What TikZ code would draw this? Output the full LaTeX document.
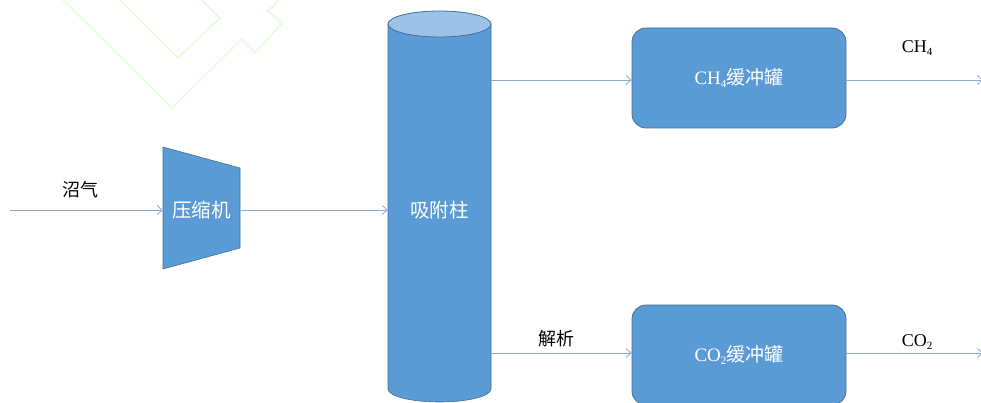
\documentclass[tikz,border=0pt]{standalone}
\usepackage{fontspec}
\setmainfont{Noto Sans CJK SC}
\newfontfamily\serifen{Liberation Serif}
\usetikzlibrary{arrows.meta}
\definecolor{boxblue}{HTML}{5B9BD5}
\definecolor{boxedge}{HTML}{41719C}
\definecolor{toplight}{HTML}{9CC2E8}
\definecolor{flow}{HTML}{8EAACB}
\definecolor{wmark}{HTML}{E8FDE0}
\newcommand{\subsc}[1]{\raisebox{-0.45ex}{\fontsize{11}{12}\selectfont #1}}
\tikzset{
  flowline/.style={draw=flow, line width=0.9pt, -{Straight Barb[length=5pt,width=9pt,line width=0.8pt]}},
  tank/.style={draw=boxedge, line width=0.8pt, fill=boxblue, rounded corners=14pt,
    minimum width=214pt, minimum height=100pt, inner sep=0pt, text=white},
  lbl/.style={font=\fontsize{18}{21}\selectfont, inner sep=0pt},
  wtxt/.style={font=\fontsize{19.5}{22}\selectfont, text=white, inner sep=0pt},
}
\begin{document}
\begin{tikzpicture}[x=1pt,y=-1pt]
\useasboundingbox[fill=white] (0,0) rectangle (981,403);
% watermark
\draw[wmark, line width=1.8pt] (63,0) -- (172,108) -- (242,39) -- (255,53) -- (282,23) -- (268,11) -- (279,0);
\draw[wmark, line width=1.8pt] (120,0) -- (178,58) -- (220,18) -- (202,0);
% compressor
\draw[boxedge, line width=0.6pt, fill=boxblue] (163,147) -- (240,168) -- (240,248) -- (163,269) -- cycle;
\node[wtxt, minimum width=77pt, minimum height=80pt] (comp) at (201.5,210) {压缩机};
% column
\fill[boxblue, draw=boxedge, line width=0.6pt] (388,24) -- (388,389) arc[start angle=180, end angle=0, x radius=51.5, y radius=13] -- (491,24) -- cycle;
\draw[boxedge, line width=0.8pt, fill=toplight] (439.5,24) ellipse[x radius=51.5, y radius=13];
\node[wtxt, minimum width=103pt, minimum height=300pt] (col) at (439.5,210) {吸附柱};
% tanks
\node[tank, font=\fontsize{19}{22}\selectfont] (ch4) at (739,78) {{\serifen CH\subsc{4}}缓冲罐};
\node[tank, font=\fontsize{19}{22}\selectfont] (co2) at (739,355) {{\serifen CO\subsc{2}}缓冲罐};
% connectors
\coordinate (in) at (10,210);
\coordinate (ch4out) at (983,80);
\coordinate (co2out) at (983,353);
\draw[flowline] (in) -- (comp.west);
\draw[flowline] (comp.east) -- (col.west);
\draw[flowline] (col.east |- 0,80) -- (ch4.west |- 0,80);
\draw[flowline] (col.east |- 0,353) -- (co2.west |- 0,353);
\draw[flowline] (ch4.east |- 0,80) -- (ch4out);
\draw[flowline] (co2.east |- 0,353) -- (co2out);
% labels
\node[lbl] (l1) at (80,190) {沼气};
\node[lbl] (l2) at (556,339) {解析};
\node[lbl] (l3) at (917,48) {\serifen CH\subsc{4}};
\node[lbl] (l4) at (917,342) {\serifen CO\subsc{2}};
\end{tikzpicture}
\end{document}
